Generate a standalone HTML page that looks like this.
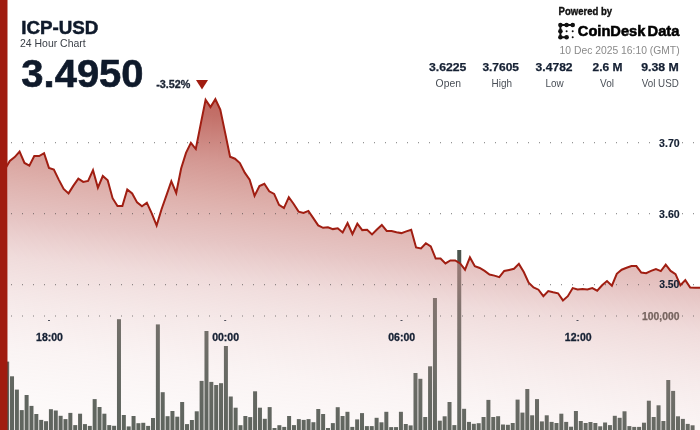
<!DOCTYPE html>
<html><head><meta charset="utf-8"><style>
html,body{margin:0;padding:0;width:700px;height:430px;overflow:hidden;background:#fff}
svg{position:absolute;left:0;top:0;display:block;will-change:transform}
text{font-family:"Liberation Sans",sans-serif}
</style></head><body>
<svg width="700" height="430" viewBox="0 0 700 430">
<defs>
<linearGradient id="g" gradientUnits="userSpaceOnUse" x1="300.0" y1="98" x2="263.92" y2="426.03">
<stop offset="0" stop-color="rgb(188,94,86)" stop-opacity="0.98"/>
<stop offset="0.081" stop-color="rgb(191,103,95)" stop-opacity="0.94"/>
<stop offset="0.213" stop-color="rgb(198,119,112)" stop-opacity="0.77"/>
<stop offset="0.334" stop-color="rgb(204,133,126)" stop-opacity="0.65"/>
<stop offset="0.461" stop-color="rgb(210,150,148)" stop-opacity="0.55"/>
<stop offset="0.574" stop-color="rgb(216,164,163)" stop-opacity="0.39"/>
<stop offset="0.699" stop-color="rgb(222,178,177)" stop-opacity="0.29"/>
<stop offset="0.849" stop-color="rgb(229,195,194)" stop-opacity="0.19"/>
<stop offset="1" stop-color="rgb(235,208,207)" stop-opacity="0.13"/>
</linearGradient>
<clipPath id="cl"><rect x="8" y="0" width="700" height="430"/></clipPath>
</defs>
<g fill="rgb(75,85,78)"><rect x="0.30" y="370.00" width="4.0" height="60.00"/><rect x="5.16" y="361.60" width="4.0" height="68.40"/><rect x="10.02" y="376.30" width="4.0" height="53.70"/><rect x="14.88" y="389.60" width="4.0" height="40.40"/><rect x="19.74" y="410.10" width="4.0" height="19.90"/><rect x="24.61" y="395.00" width="4.0" height="35.00"/><rect x="29.47" y="405.90" width="4.0" height="24.10"/><rect x="34.33" y="414.00" width="4.0" height="16.00"/><rect x="39.19" y="419.90" width="4.0" height="10.10"/><rect x="44.05" y="421.20" width="4.0" height="8.80"/><rect x="48.91" y="409.20" width="4.0" height="20.80"/><rect x="53.77" y="410.50" width="4.0" height="19.50"/><rect x="58.63" y="415.80" width="4.0" height="14.20"/><rect x="63.49" y="419.10" width="4.0" height="10.90"/><rect x="68.36" y="412.90" width="4.0" height="17.10"/><rect x="73.22" y="425.10" width="4.0" height="4.90"/><rect x="78.08" y="413.70" width="4.0" height="16.30"/><rect x="82.94" y="424.10" width="4.0" height="5.90"/><rect x="87.80" y="425.90" width="4.0" height="4.10"/><rect x="92.66" y="399.10" width="4.0" height="30.90"/><rect x="97.52" y="407.00" width="4.0" height="23.00"/><rect x="102.38" y="413.70" width="4.0" height="16.30"/><rect x="107.24" y="425.10" width="4.0" height="4.90"/><rect x="112.11" y="425.80" width="4.0" height="4.20"/><rect x="116.97" y="319.20" width="4.0" height="110.80"/><rect x="121.83" y="415.00" width="4.0" height="15.00"/><rect x="126.69" y="426.40" width="4.0" height="3.60"/><rect x="131.55" y="416.00" width="4.0" height="14.00"/><rect x="136.41" y="423.20" width="4.0" height="6.80"/><rect x="141.27" y="422.80" width="4.0" height="7.20"/><rect x="146.13" y="425.90" width="4.0" height="4.10"/><rect x="150.99" y="418.00" width="4.0" height="12.00"/><rect x="155.86" y="324.40" width="4.0" height="105.60"/><rect x="160.72" y="392.20" width="4.0" height="37.80"/><rect x="165.58" y="416.20" width="4.0" height="13.80"/><rect x="170.44" y="411.00" width="4.0" height="19.00"/><rect x="175.30" y="416.70" width="4.0" height="13.30"/><rect x="180.16" y="402.00" width="4.0" height="28.00"/><rect x="185.02" y="424.10" width="4.0" height="5.90"/><rect x="189.88" y="420.00" width="4.0" height="10.00"/><rect x="194.74" y="411.30" width="4.0" height="18.70"/><rect x="199.61" y="380.90" width="4.0" height="49.10"/><rect x="204.47" y="331.00" width="4.0" height="99.00"/><rect x="209.33" y="381.90" width="4.0" height="48.10"/><rect x="214.19" y="385.00" width="4.0" height="45.00"/><rect x="219.05" y="383.20" width="4.0" height="46.80"/><rect x="223.91" y="346.00" width="4.0" height="84.00"/><rect x="228.77" y="396.50" width="4.0" height="33.50"/><rect x="233.63" y="407.70" width="4.0" height="22.30"/><rect x="238.49" y="425.20" width="4.0" height="4.80"/><rect x="243.36" y="416.00" width="4.0" height="14.00"/><rect x="248.22" y="417.10" width="4.0" height="12.90"/><rect x="253.08" y="391.30" width="4.0" height="38.70"/><rect x="257.94" y="407.70" width="4.0" height="22.30"/><rect x="262.80" y="418.80" width="4.0" height="11.20"/><rect x="267.66" y="407.10" width="4.0" height="22.90"/><rect x="272.52" y="428.00" width="4.0" height="2.00"/><rect x="277.38" y="425.20" width="4.0" height="4.80"/><rect x="282.24" y="426.90" width="4.0" height="3.10"/><rect x="287.11" y="416.00" width="4.0" height="14.00"/><rect x="291.97" y="425.10" width="4.0" height="4.90"/><rect x="296.83" y="419.10" width="4.0" height="10.90"/><rect x="301.69" y="419.90" width="4.0" height="10.10"/><rect x="306.55" y="419.10" width="4.0" height="10.90"/><rect x="311.41" y="422.20" width="4.0" height="7.80"/><rect x="316.27" y="409.00" width="4.0" height="21.00"/><rect x="321.13" y="414.00" width="4.0" height="16.00"/><rect x="325.99" y="428.00" width="4.0" height="2.00"/><rect x="330.86" y="423.10" width="4.0" height="6.90"/><rect x="335.72" y="407.20" width="4.0" height="22.80"/><rect x="340.58" y="416.00" width="4.0" height="14.00"/><rect x="345.44" y="411.80" width="4.0" height="18.20"/><rect x="350.30" y="426.90" width="4.0" height="3.10"/><rect x="355.16" y="419.40" width="4.0" height="10.60"/><rect x="360.02" y="413.10" width="4.0" height="16.90"/><rect x="364.88" y="426.10" width="4.0" height="3.90"/><rect x="369.74" y="426.10" width="4.0" height="3.90"/><rect x="374.61" y="417.80" width="4.0" height="12.20"/><rect x="379.47" y="422.30" width="4.0" height="7.70"/><rect x="384.33" y="411.80" width="4.0" height="18.20"/><rect x="389.19" y="427.10" width="4.0" height="2.90"/><rect x="394.05" y="427.10" width="4.0" height="2.90"/><rect x="398.91" y="411.80" width="4.0" height="18.20"/><rect x="403.77" y="424.00" width="4.0" height="6.00"/><rect x="408.63" y="425.40" width="4.0" height="4.60"/><rect x="413.49" y="373.00" width="4.0" height="57.00"/><rect x="418.36" y="378.80" width="4.0" height="51.20"/><rect x="423.22" y="417.00" width="4.0" height="13.00"/><rect x="428.08" y="366.30" width="4.0" height="63.70"/><rect x="432.94" y="298.00" width="4.0" height="132.00"/><rect x="437.80" y="420.70" width="4.0" height="9.30"/><rect x="442.66" y="416.30" width="4.0" height="13.70"/><rect x="447.52" y="402.00" width="4.0" height="28.00"/><rect x="452.38" y="425.10" width="4.0" height="4.90"/><rect x="457.24" y="250.00" width="4.0" height="180.00"/><rect x="462.11" y="408.80" width="4.0" height="21.20"/><rect x="466.97" y="421.90" width="4.0" height="8.10"/><rect x="471.83" y="423.80" width="4.0" height="6.20"/><rect x="476.69" y="423.20" width="4.0" height="6.80"/><rect x="481.55" y="417.00" width="4.0" height="13.00"/><rect x="486.41" y="399.90" width="4.0" height="30.10"/><rect x="491.27" y="417.00" width="4.0" height="13.00"/><rect x="496.13" y="416.20" width="4.0" height="13.80"/><rect x="500.99" y="424.50" width="4.0" height="5.50"/><rect x="505.86" y="424.80" width="4.0" height="5.20"/><rect x="510.72" y="423.00" width="4.0" height="7.00"/><rect x="515.58" y="399.60" width="4.0" height="30.40"/><rect x="520.44" y="412.60" width="4.0" height="17.40"/><rect x="525.30" y="389.00" width="4.0" height="41.00"/><rect x="530.16" y="415.30" width="4.0" height="14.70"/><rect x="535.02" y="399.10" width="4.0" height="30.90"/><rect x="539.88" y="421.40" width="4.0" height="8.60"/><rect x="544.74" y="415.30" width="4.0" height="14.70"/><rect x="549.61" y="421.90" width="4.0" height="8.10"/><rect x="554.47" y="423.00" width="4.0" height="7.00"/><rect x="559.33" y="413.70" width="4.0" height="16.30"/><rect x="564.19" y="421.90" width="4.0" height="8.10"/><rect x="569.05" y="426.70" width="4.0" height="3.30"/><rect x="573.91" y="411.00" width="4.0" height="19.00"/><rect x="578.77" y="421.00" width="4.0" height="9.00"/><rect x="583.63" y="423.00" width="4.0" height="7.00"/><rect x="588.49" y="422.00" width="4.0" height="8.00"/><rect x="593.36" y="423.00" width="4.0" height="7.00"/><rect x="598.22" y="426.30" width="4.0" height="3.70"/><rect x="603.08" y="422.50" width="4.0" height="7.50"/><rect x="607.94" y="425.10" width="4.0" height="4.90"/><rect x="612.80" y="415.80" width="4.0" height="14.20"/><rect x="617.66" y="417.80" width="4.0" height="12.20"/><rect x="622.52" y="411.30" width="4.0" height="18.70"/><rect x="627.38" y="426.10" width="4.0" height="3.90"/><rect x="632.24" y="426.90" width="4.0" height="3.10"/><rect x="637.11" y="426.90" width="4.0" height="3.10"/><rect x="641.97" y="422.70" width="4.0" height="7.30"/><rect x="646.83" y="400.70" width="4.0" height="29.30"/><rect x="651.69" y="417.00" width="4.0" height="13.00"/><rect x="656.55" y="405.30" width="4.0" height="24.70"/><rect x="661.41" y="421.00" width="4.0" height="9.00"/><rect x="666.27" y="380.00" width="4.0" height="50.00"/><rect x="671.13" y="390.90" width="4.0" height="39.10"/><rect x="675.99" y="416.30" width="4.0" height="13.70"/><rect x="680.86" y="418.90" width="4.0" height="11.10"/><rect x="685.72" y="423.90" width="4.0" height="6.10"/><rect x="690.58" y="425.30" width="4.0" height="4.70"/></g>
<path d="M0.00,170.40 L4.90,169.40 L9.79,160.90 L14.69,157.10 L19.58,151.60 L24.48,163.00 L29.37,165.70 L34.27,156.00 L39.16,156.00 L44.06,153.20 L48.95,167.90 L53.85,169.50 L58.74,179.60 L63.64,189.00 L68.53,193.40 L73.43,185.60 L78.32,178.60 L83.22,181.90 L88.11,180.90 L93.01,170.20 L97.90,187.70 L102.80,176.00 L107.69,180.30 L112.59,198.20 L117.48,206.00 L122.38,206.00 L127.27,189.40 L132.17,193.40 L137.06,202.40 L141.96,206.30 L146.85,202.70 L151.75,213.30 L156.64,225.50 L161.54,209.20 L166.43,195.40 L171.33,181.20 L176.22,193.00 L181.12,168.50 L186.01,152.90 L190.91,142.80 L195.80,149.00 L200.70,124.10 L205.59,99.70 L210.49,107.10 L215.38,99.20 L220.28,109.50 L225.17,132.90 L230.07,156.80 L234.97,158.70 L239.86,163.00 L244.76,172.70 L249.65,179.60 L254.55,195.90 L259.44,186.10 L264.34,183.80 L269.23,191.30 L274.13,193.90 L279.02,204.80 L283.92,208.10 L288.81,197.20 L293.71,204.00 L298.60,211.60 L303.50,212.90 L308.39,210.90 L313.29,218.10 L318.18,225.40 L323.08,227.80 L327.97,227.20 L332.87,229.10 L337.76,228.20 L342.66,232.40 L347.55,223.00 L352.45,234.00 L357.34,223.70 L362.24,230.10 L367.13,229.80 L372.03,234.40 L376.92,229.50 L381.82,224.90 L386.71,231.00 L391.61,231.00 L396.50,232.30 L401.40,233.10 L406.29,231.40 L411.19,229.80 L416.08,247.40 L420.98,248.40 L425.87,243.20 L430.77,246.30 L435.66,258.50 L440.56,258.50 L445.45,263.40 L450.35,260.40 L455.24,260.40 L460.14,263.40 L465.03,269.70 L469.93,257.40 L474.83,266.30 L479.72,268.00 L484.62,270.90 L489.51,274.50 L494.41,275.60 L499.30,277.20 L504.20,270.90 L509.09,269.90 L513.99,268.80 L518.88,263.90 L523.78,272.00 L528.67,282.60 L533.57,287.50 L538.46,289.70 L543.36,296.20 L548.25,291.00 L553.15,292.30 L558.04,293.30 L562.94,300.40 L567.83,296.20 L572.73,288.10 L577.62,289.40 L582.52,289.00 L587.41,289.40 L592.31,288.10 L597.20,290.70 L602.10,285.30 L606.99,281.10 L611.89,285.70 L616.78,273.80 L621.68,269.70 L626.57,267.70 L631.47,266.00 L636.36,266.10 L641.26,272.60 L646.15,273.20 L651.05,270.90 L655.94,269.00 L660.84,271.10 L665.73,264.70 L670.63,270.90 L675.52,274.20 L680.42,285.30 L685.31,280.10 L690.21,287.60 L695.10,287.80 L700.00,287.80 L701.00,287.40 L701.00,430 L0,430 Z" fill="url(#g)" clip-path="url(#cl)"/>
<g fill="rgba(80,80,80,0.45)"><rect x="11" y="142" width="1" height="1" fill="rgba(60,60,60,0.55)"/><rect x="11" y="143" width="1" height="1" fill="rgba(60,60,60,0.15)"/><rect x="22" y="142" width="1" height="1" fill="rgba(60,60,60,0.55)"/><rect x="22" y="143" width="1" height="1" fill="rgba(60,60,60,0.15)"/><rect x="33" y="142" width="1" height="1" fill="rgba(60,60,60,0.55)"/><rect x="33" y="143" width="1" height="1" fill="rgba(60,60,60,0.15)"/><rect x="44" y="142" width="1" height="1" fill="rgba(60,60,60,0.55)"/><rect x="44" y="143" width="1" height="1" fill="rgba(60,60,60,0.15)"/><rect x="55" y="142" width="1" height="1" fill="rgba(60,60,60,0.55)"/><rect x="55" y="143" width="1" height="1" fill="rgba(60,60,60,0.15)"/><rect x="66" y="142" width="1" height="1" fill="rgba(60,60,60,0.55)"/><rect x="66" y="143" width="1" height="1" fill="rgba(60,60,60,0.15)"/><rect x="77" y="142" width="1" height="1" fill="rgba(60,60,60,0.55)"/><rect x="77" y="143" width="1" height="1" fill="rgba(60,60,60,0.15)"/><rect x="88" y="142" width="1" height="1" fill="rgba(60,60,60,0.55)"/><rect x="88" y="143" width="1" height="1" fill="rgba(60,60,60,0.15)"/><rect x="99" y="142" width="1" height="1" fill="rgba(60,60,60,0.55)"/><rect x="99" y="143" width="1" height="1" fill="rgba(60,60,60,0.15)"/><rect x="110" y="142" width="1" height="1" fill="rgba(60,60,60,0.55)"/><rect x="110" y="143" width="1" height="1" fill="rgba(60,60,60,0.15)"/><rect x="121" y="142" width="1" height="1" fill="rgba(60,60,60,0.55)"/><rect x="121" y="143" width="1" height="1" fill="rgba(60,60,60,0.15)"/><rect x="132" y="142" width="1" height="1" fill="rgba(60,60,60,0.55)"/><rect x="132" y="143" width="1" height="1" fill="rgba(60,60,60,0.15)"/><rect x="143" y="142" width="1" height="1" fill="rgba(60,60,60,0.55)"/><rect x="143" y="143" width="1" height="1" fill="rgba(60,60,60,0.15)"/><rect x="154" y="142" width="1" height="1" fill="rgba(60,60,60,0.55)"/><rect x="154" y="143" width="1" height="1" fill="rgba(60,60,60,0.15)"/><rect x="165" y="142" width="1" height="1" fill="rgba(60,60,60,0.55)"/><rect x="165" y="143" width="1" height="1" fill="rgba(60,60,60,0.15)"/><rect x="176" y="142" width="1" height="1" fill="rgba(60,60,60,0.55)"/><rect x="176" y="143" width="1" height="1" fill="rgba(60,60,60,0.15)"/><rect x="187" y="142" width="1" height="1" fill="rgba(60,60,60,0.55)"/><rect x="187" y="143" width="1" height="1" fill="rgba(60,60,60,0.15)"/><rect x="198" y="142" width="1" height="1" fill="rgba(60,60,60,0.55)"/><rect x="198" y="143" width="1" height="1" fill="rgba(60,60,60,0.15)"/><rect x="209" y="142" width="1" height="1" fill="rgba(60,60,60,0.55)"/><rect x="209" y="143" width="1" height="1" fill="rgba(60,60,60,0.15)"/><rect x="220" y="142" width="1" height="1" fill="rgba(60,60,60,0.55)"/><rect x="220" y="143" width="1" height="1" fill="rgba(60,60,60,0.15)"/><rect x="231" y="142" width="1" height="1" fill="rgba(60,60,60,0.55)"/><rect x="231" y="143" width="1" height="1" fill="rgba(60,60,60,0.15)"/><rect x="242" y="142" width="1" height="1" fill="rgba(60,60,60,0.55)"/><rect x="242" y="143" width="1" height="1" fill="rgba(60,60,60,0.15)"/><rect x="253" y="142" width="1" height="1" fill="rgba(60,60,60,0.55)"/><rect x="253" y="143" width="1" height="1" fill="rgba(60,60,60,0.15)"/><rect x="264" y="142" width="1" height="1" fill="rgba(60,60,60,0.55)"/><rect x="264" y="143" width="1" height="1" fill="rgba(60,60,60,0.15)"/><rect x="275" y="142" width="1" height="1" fill="rgba(60,60,60,0.55)"/><rect x="275" y="143" width="1" height="1" fill="rgba(60,60,60,0.15)"/><rect x="286" y="142" width="1" height="1" fill="rgba(60,60,60,0.55)"/><rect x="286" y="143" width="1" height="1" fill="rgba(60,60,60,0.15)"/><rect x="297" y="142" width="1" height="1" fill="rgba(60,60,60,0.55)"/><rect x="297" y="143" width="1" height="1" fill="rgba(60,60,60,0.15)"/><rect x="308" y="142" width="1" height="1" fill="rgba(60,60,60,0.55)"/><rect x="308" y="143" width="1" height="1" fill="rgba(60,60,60,0.15)"/><rect x="319" y="142" width="1" height="1" fill="rgba(60,60,60,0.55)"/><rect x="319" y="143" width="1" height="1" fill="rgba(60,60,60,0.15)"/><rect x="330" y="142" width="1" height="1" fill="rgba(60,60,60,0.55)"/><rect x="330" y="143" width="1" height="1" fill="rgba(60,60,60,0.15)"/><rect x="341" y="142" width="1" height="1" fill="rgba(60,60,60,0.55)"/><rect x="341" y="143" width="1" height="1" fill="rgba(60,60,60,0.15)"/><rect x="352" y="142" width="1" height="1" fill="rgba(60,60,60,0.55)"/><rect x="352" y="143" width="1" height="1" fill="rgba(60,60,60,0.15)"/><rect x="363" y="142" width="1" height="1" fill="rgba(60,60,60,0.55)"/><rect x="363" y="143" width="1" height="1" fill="rgba(60,60,60,0.15)"/><rect x="374" y="142" width="1" height="1" fill="rgba(60,60,60,0.55)"/><rect x="374" y="143" width="1" height="1" fill="rgba(60,60,60,0.15)"/><rect x="385" y="142" width="1" height="1" fill="rgba(60,60,60,0.55)"/><rect x="385" y="143" width="1" height="1" fill="rgba(60,60,60,0.15)"/><rect x="396" y="142" width="1" height="1" fill="rgba(60,60,60,0.55)"/><rect x="396" y="143" width="1" height="1" fill="rgba(60,60,60,0.15)"/><rect x="407" y="142" width="1" height="1" fill="rgba(60,60,60,0.55)"/><rect x="407" y="143" width="1" height="1" fill="rgba(60,60,60,0.15)"/><rect x="418" y="142" width="1" height="1" fill="rgba(60,60,60,0.55)"/><rect x="418" y="143" width="1" height="1" fill="rgba(60,60,60,0.15)"/><rect x="429" y="142" width="1" height="1" fill="rgba(60,60,60,0.55)"/><rect x="429" y="143" width="1" height="1" fill="rgba(60,60,60,0.15)"/><rect x="440" y="142" width="1" height="1" fill="rgba(60,60,60,0.55)"/><rect x="440" y="143" width="1" height="1" fill="rgba(60,60,60,0.15)"/><rect x="451" y="142" width="1" height="1" fill="rgba(60,60,60,0.55)"/><rect x="451" y="143" width="1" height="1" fill="rgba(60,60,60,0.15)"/><rect x="462" y="142" width="1" height="1" fill="rgba(60,60,60,0.55)"/><rect x="462" y="143" width="1" height="1" fill="rgba(60,60,60,0.15)"/><rect x="473" y="142" width="1" height="1" fill="rgba(60,60,60,0.55)"/><rect x="473" y="143" width="1" height="1" fill="rgba(60,60,60,0.15)"/><rect x="484" y="142" width="1" height="1" fill="rgba(60,60,60,0.55)"/><rect x="484" y="143" width="1" height="1" fill="rgba(60,60,60,0.15)"/><rect x="495" y="142" width="1" height="1" fill="rgba(60,60,60,0.55)"/><rect x="495" y="143" width="1" height="1" fill="rgba(60,60,60,0.15)"/><rect x="506" y="142" width="1" height="1" fill="rgba(60,60,60,0.55)"/><rect x="506" y="143" width="1" height="1" fill="rgba(60,60,60,0.15)"/><rect x="517" y="142" width="1" height="1" fill="rgba(60,60,60,0.55)"/><rect x="517" y="143" width="1" height="1" fill="rgba(60,60,60,0.15)"/><rect x="528" y="142" width="1" height="1" fill="rgba(60,60,60,0.55)"/><rect x="528" y="143" width="1" height="1" fill="rgba(60,60,60,0.15)"/><rect x="539" y="142" width="1" height="1" fill="rgba(60,60,60,0.55)"/><rect x="539" y="143" width="1" height="1" fill="rgba(60,60,60,0.15)"/><rect x="550" y="142" width="1" height="1" fill="rgba(60,60,60,0.55)"/><rect x="550" y="143" width="1" height="1" fill="rgba(60,60,60,0.15)"/><rect x="561" y="142" width="1" height="1" fill="rgba(60,60,60,0.55)"/><rect x="561" y="143" width="1" height="1" fill="rgba(60,60,60,0.15)"/><rect x="572" y="142" width="1" height="1" fill="rgba(60,60,60,0.55)"/><rect x="572" y="143" width="1" height="1" fill="rgba(60,60,60,0.15)"/><rect x="583" y="142" width="1" height="1" fill="rgba(60,60,60,0.55)"/><rect x="583" y="143" width="1" height="1" fill="rgba(60,60,60,0.15)"/><rect x="594" y="142" width="1" height="1" fill="rgba(60,60,60,0.55)"/><rect x="594" y="143" width="1" height="1" fill="rgba(60,60,60,0.15)"/><rect x="605" y="142" width="1" height="1" fill="rgba(60,60,60,0.55)"/><rect x="605" y="143" width="1" height="1" fill="rgba(60,60,60,0.15)"/><rect x="616" y="142" width="1" height="1" fill="rgba(60,60,60,0.55)"/><rect x="616" y="143" width="1" height="1" fill="rgba(60,60,60,0.15)"/><rect x="627" y="142" width="1" height="1" fill="rgba(60,60,60,0.55)"/><rect x="627" y="143" width="1" height="1" fill="rgba(60,60,60,0.15)"/><rect x="638" y="142" width="1" height="1" fill="rgba(60,60,60,0.55)"/><rect x="638" y="143" width="1" height="1" fill="rgba(60,60,60,0.15)"/><rect x="649" y="142" width="1" height="1" fill="rgba(60,60,60,0.55)"/><rect x="649" y="143" width="1" height="1" fill="rgba(60,60,60,0.15)"/><rect x="660" y="142" width="1" height="1" fill="rgba(60,60,60,0.55)"/><rect x="660" y="143" width="1" height="1" fill="rgba(60,60,60,0.15)"/><rect x="671" y="142" width="1" height="1" fill="rgba(60,60,60,0.55)"/><rect x="671" y="143" width="1" height="1" fill="rgba(60,60,60,0.15)"/><rect x="682" y="142" width="1" height="1" fill="rgba(60,60,60,0.55)"/><rect x="682" y="143" width="1" height="1" fill="rgba(60,60,60,0.15)"/><rect x="693" y="142" width="1" height="1" fill="rgba(60,60,60,0.55)"/><rect x="693" y="143" width="1" height="1" fill="rgba(60,60,60,0.15)"/><rect x="11" y="213" width="1" height="1" fill="rgba(60,60,60,0.55)"/><rect x="11" y="214" width="1" height="1" fill="rgba(60,60,60,0.15)"/><rect x="22" y="213" width="1" height="1" fill="rgba(60,60,60,0.55)"/><rect x="22" y="214" width="1" height="1" fill="rgba(60,60,60,0.15)"/><rect x="33" y="213" width="1" height="1" fill="rgba(60,60,60,0.55)"/><rect x="33" y="214" width="1" height="1" fill="rgba(60,60,60,0.15)"/><rect x="44" y="213" width="1" height="1" fill="rgba(60,60,60,0.55)"/><rect x="44" y="214" width="1" height="1" fill="rgba(60,60,60,0.15)"/><rect x="55" y="213" width="1" height="1" fill="rgba(60,60,60,0.55)"/><rect x="55" y="214" width="1" height="1" fill="rgba(60,60,60,0.15)"/><rect x="66" y="213" width="1" height="1" fill="rgba(60,60,60,0.55)"/><rect x="66" y="214" width="1" height="1" fill="rgba(60,60,60,0.15)"/><rect x="77" y="213" width="1" height="1" fill="rgba(60,60,60,0.55)"/><rect x="77" y="214" width="1" height="1" fill="rgba(60,60,60,0.15)"/><rect x="88" y="213" width="1" height="1" fill="rgba(60,60,60,0.55)"/><rect x="88" y="214" width="1" height="1" fill="rgba(60,60,60,0.15)"/><rect x="99" y="213" width="1" height="1" fill="rgba(60,60,60,0.55)"/><rect x="99" y="214" width="1" height="1" fill="rgba(60,60,60,0.15)"/><rect x="110" y="213" width="1" height="1" fill="rgba(60,60,60,0.55)"/><rect x="110" y="214" width="1" height="1" fill="rgba(60,60,60,0.15)"/><rect x="121" y="213" width="1" height="1" fill="rgba(60,60,60,0.55)"/><rect x="121" y="214" width="1" height="1" fill="rgba(60,60,60,0.15)"/><rect x="132" y="213" width="1" height="1" fill="rgba(60,60,60,0.55)"/><rect x="132" y="214" width="1" height="1" fill="rgba(60,60,60,0.15)"/><rect x="143" y="213" width="1" height="1" fill="rgba(60,60,60,0.55)"/><rect x="143" y="214" width="1" height="1" fill="rgba(60,60,60,0.15)"/><rect x="154" y="213" width="1" height="1" fill="rgba(60,60,60,0.55)"/><rect x="154" y="214" width="1" height="1" fill="rgba(60,60,60,0.15)"/><rect x="165" y="213" width="1" height="1" fill="rgba(60,60,60,0.55)"/><rect x="165" y="214" width="1" height="1" fill="rgba(60,60,60,0.15)"/><rect x="176" y="213" width="1" height="1" fill="rgba(60,60,60,0.55)"/><rect x="176" y="214" width="1" height="1" fill="rgba(60,60,60,0.15)"/><rect x="187" y="213" width="1" height="1" fill="rgba(60,60,60,0.55)"/><rect x="187" y="214" width="1" height="1" fill="rgba(60,60,60,0.15)"/><rect x="198" y="213" width="1" height="1" fill="rgba(60,60,60,0.55)"/><rect x="198" y="214" width="1" height="1" fill="rgba(60,60,60,0.15)"/><rect x="209" y="213" width="1" height="1" fill="rgba(60,60,60,0.55)"/><rect x="209" y="214" width="1" height="1" fill="rgba(60,60,60,0.15)"/><rect x="220" y="213" width="1" height="1" fill="rgba(60,60,60,0.55)"/><rect x="220" y="214" width="1" height="1" fill="rgba(60,60,60,0.15)"/><rect x="231" y="213" width="1" height="1" fill="rgba(60,60,60,0.55)"/><rect x="231" y="214" width="1" height="1" fill="rgba(60,60,60,0.15)"/><rect x="242" y="213" width="1" height="1" fill="rgba(60,60,60,0.55)"/><rect x="242" y="214" width="1" height="1" fill="rgba(60,60,60,0.15)"/><rect x="253" y="213" width="1" height="1" fill="rgba(60,60,60,0.55)"/><rect x="253" y="214" width="1" height="1" fill="rgba(60,60,60,0.15)"/><rect x="264" y="213" width="1" height="1" fill="rgba(60,60,60,0.55)"/><rect x="264" y="214" width="1" height="1" fill="rgba(60,60,60,0.15)"/><rect x="275" y="213" width="1" height="1" fill="rgba(60,60,60,0.55)"/><rect x="275" y="214" width="1" height="1" fill="rgba(60,60,60,0.15)"/><rect x="286" y="213" width="1" height="1" fill="rgba(60,60,60,0.55)"/><rect x="286" y="214" width="1" height="1" fill="rgba(60,60,60,0.15)"/><rect x="297" y="213" width="1" height="1" fill="rgba(60,60,60,0.55)"/><rect x="297" y="214" width="1" height="1" fill="rgba(60,60,60,0.15)"/><rect x="308" y="213" width="1" height="1" fill="rgba(60,60,60,0.55)"/><rect x="308" y="214" width="1" height="1" fill="rgba(60,60,60,0.15)"/><rect x="319" y="213" width="1" height="1" fill="rgba(60,60,60,0.55)"/><rect x="319" y="214" width="1" height="1" fill="rgba(60,60,60,0.15)"/><rect x="330" y="213" width="1" height="1" fill="rgba(60,60,60,0.55)"/><rect x="330" y="214" width="1" height="1" fill="rgba(60,60,60,0.15)"/><rect x="341" y="213" width="1" height="1" fill="rgba(60,60,60,0.55)"/><rect x="341" y="214" width="1" height="1" fill="rgba(60,60,60,0.15)"/><rect x="352" y="213" width="1" height="1" fill="rgba(60,60,60,0.55)"/><rect x="352" y="214" width="1" height="1" fill="rgba(60,60,60,0.15)"/><rect x="363" y="213" width="1" height="1" fill="rgba(60,60,60,0.55)"/><rect x="363" y="214" width="1" height="1" fill="rgba(60,60,60,0.15)"/><rect x="374" y="213" width="1" height="1" fill="rgba(60,60,60,0.55)"/><rect x="374" y="214" width="1" height="1" fill="rgba(60,60,60,0.15)"/><rect x="385" y="213" width="1" height="1" fill="rgba(60,60,60,0.55)"/><rect x="385" y="214" width="1" height="1" fill="rgba(60,60,60,0.15)"/><rect x="396" y="213" width="1" height="1" fill="rgba(60,60,60,0.55)"/><rect x="396" y="214" width="1" height="1" fill="rgba(60,60,60,0.15)"/><rect x="407" y="213" width="1" height="1" fill="rgba(60,60,60,0.55)"/><rect x="407" y="214" width="1" height="1" fill="rgba(60,60,60,0.15)"/><rect x="418" y="213" width="1" height="1" fill="rgba(60,60,60,0.55)"/><rect x="418" y="214" width="1" height="1" fill="rgba(60,60,60,0.15)"/><rect x="429" y="213" width="1" height="1" fill="rgba(60,60,60,0.55)"/><rect x="429" y="214" width="1" height="1" fill="rgba(60,60,60,0.15)"/><rect x="440" y="213" width="1" height="1" fill="rgba(60,60,60,0.55)"/><rect x="440" y="214" width="1" height="1" fill="rgba(60,60,60,0.15)"/><rect x="451" y="213" width="1" height="1" fill="rgba(60,60,60,0.55)"/><rect x="451" y="214" width="1" height="1" fill="rgba(60,60,60,0.15)"/><rect x="462" y="213" width="1" height="1" fill="rgba(60,60,60,0.55)"/><rect x="462" y="214" width="1" height="1" fill="rgba(60,60,60,0.15)"/><rect x="473" y="213" width="1" height="1" fill="rgba(60,60,60,0.55)"/><rect x="473" y="214" width="1" height="1" fill="rgba(60,60,60,0.15)"/><rect x="484" y="213" width="1" height="1" fill="rgba(60,60,60,0.55)"/><rect x="484" y="214" width="1" height="1" fill="rgba(60,60,60,0.15)"/><rect x="495" y="213" width="1" height="1" fill="rgba(60,60,60,0.55)"/><rect x="495" y="214" width="1" height="1" fill="rgba(60,60,60,0.15)"/><rect x="506" y="213" width="1" height="1" fill="rgba(60,60,60,0.55)"/><rect x="506" y="214" width="1" height="1" fill="rgba(60,60,60,0.15)"/><rect x="517" y="213" width="1" height="1" fill="rgba(60,60,60,0.55)"/><rect x="517" y="214" width="1" height="1" fill="rgba(60,60,60,0.15)"/><rect x="528" y="213" width="1" height="1" fill="rgba(60,60,60,0.55)"/><rect x="528" y="214" width="1" height="1" fill="rgba(60,60,60,0.15)"/><rect x="539" y="213" width="1" height="1" fill="rgba(60,60,60,0.55)"/><rect x="539" y="214" width="1" height="1" fill="rgba(60,60,60,0.15)"/><rect x="550" y="213" width="1" height="1" fill="rgba(60,60,60,0.55)"/><rect x="550" y="214" width="1" height="1" fill="rgba(60,60,60,0.15)"/><rect x="561" y="213" width="1" height="1" fill="rgba(60,60,60,0.55)"/><rect x="561" y="214" width="1" height="1" fill="rgba(60,60,60,0.15)"/><rect x="572" y="213" width="1" height="1" fill="rgba(60,60,60,0.55)"/><rect x="572" y="214" width="1" height="1" fill="rgba(60,60,60,0.15)"/><rect x="583" y="213" width="1" height="1" fill="rgba(60,60,60,0.55)"/><rect x="583" y="214" width="1" height="1" fill="rgba(60,60,60,0.15)"/><rect x="594" y="213" width="1" height="1" fill="rgba(60,60,60,0.55)"/><rect x="594" y="214" width="1" height="1" fill="rgba(60,60,60,0.15)"/><rect x="605" y="213" width="1" height="1" fill="rgba(60,60,60,0.55)"/><rect x="605" y="214" width="1" height="1" fill="rgba(60,60,60,0.15)"/><rect x="616" y="213" width="1" height="1" fill="rgba(60,60,60,0.55)"/><rect x="616" y="214" width="1" height="1" fill="rgba(60,60,60,0.15)"/><rect x="627" y="213" width="1" height="1" fill="rgba(60,60,60,0.55)"/><rect x="627" y="214" width="1" height="1" fill="rgba(60,60,60,0.15)"/><rect x="638" y="213" width="1" height="1" fill="rgba(60,60,60,0.55)"/><rect x="638" y="214" width="1" height="1" fill="rgba(60,60,60,0.15)"/><rect x="649" y="213" width="1" height="1" fill="rgba(60,60,60,0.55)"/><rect x="649" y="214" width="1" height="1" fill="rgba(60,60,60,0.15)"/><rect x="660" y="213" width="1" height="1" fill="rgba(60,60,60,0.55)"/><rect x="660" y="214" width="1" height="1" fill="rgba(60,60,60,0.15)"/><rect x="671" y="213" width="1" height="1" fill="rgba(60,60,60,0.55)"/><rect x="671" y="214" width="1" height="1" fill="rgba(60,60,60,0.15)"/><rect x="682" y="213" width="1" height="1" fill="rgba(60,60,60,0.55)"/><rect x="682" y="214" width="1" height="1" fill="rgba(60,60,60,0.15)"/><rect x="693" y="213" width="1" height="1" fill="rgba(60,60,60,0.55)"/><rect x="693" y="214" width="1" height="1" fill="rgba(60,60,60,0.15)"/><rect x="11" y="284" width="1" height="1" fill="rgba(60,60,60,0.55)"/><rect x="11" y="285" width="1" height="1" fill="rgba(60,60,60,0.15)"/><rect x="22" y="284" width="1" height="1" fill="rgba(60,60,60,0.55)"/><rect x="22" y="285" width="1" height="1" fill="rgba(60,60,60,0.15)"/><rect x="33" y="284" width="1" height="1" fill="rgba(60,60,60,0.55)"/><rect x="33" y="285" width="1" height="1" fill="rgba(60,60,60,0.15)"/><rect x="44" y="284" width="1" height="1" fill="rgba(60,60,60,0.55)"/><rect x="44" y="285" width="1" height="1" fill="rgba(60,60,60,0.15)"/><rect x="55" y="284" width="1" height="1" fill="rgba(60,60,60,0.55)"/><rect x="55" y="285" width="1" height="1" fill="rgba(60,60,60,0.15)"/><rect x="66" y="284" width="1" height="1" fill="rgba(60,60,60,0.55)"/><rect x="66" y="285" width="1" height="1" fill="rgba(60,60,60,0.15)"/><rect x="77" y="284" width="1" height="1" fill="rgba(60,60,60,0.55)"/><rect x="77" y="285" width="1" height="1" fill="rgba(60,60,60,0.15)"/><rect x="88" y="284" width="1" height="1" fill="rgba(60,60,60,0.55)"/><rect x="88" y="285" width="1" height="1" fill="rgba(60,60,60,0.15)"/><rect x="99" y="284" width="1" height="1" fill="rgba(60,60,60,0.55)"/><rect x="99" y="285" width="1" height="1" fill="rgba(60,60,60,0.15)"/><rect x="110" y="284" width="1" height="1" fill="rgba(60,60,60,0.55)"/><rect x="110" y="285" width="1" height="1" fill="rgba(60,60,60,0.15)"/><rect x="121" y="284" width="1" height="1" fill="rgba(60,60,60,0.55)"/><rect x="121" y="285" width="1" height="1" fill="rgba(60,60,60,0.15)"/><rect x="132" y="284" width="1" height="1" fill="rgba(60,60,60,0.55)"/><rect x="132" y="285" width="1" height="1" fill="rgba(60,60,60,0.15)"/><rect x="143" y="284" width="1" height="1" fill="rgba(60,60,60,0.55)"/><rect x="143" y="285" width="1" height="1" fill="rgba(60,60,60,0.15)"/><rect x="154" y="284" width="1" height="1" fill="rgba(60,60,60,0.55)"/><rect x="154" y="285" width="1" height="1" fill="rgba(60,60,60,0.15)"/><rect x="165" y="284" width="1" height="1" fill="rgba(60,60,60,0.55)"/><rect x="165" y="285" width="1" height="1" fill="rgba(60,60,60,0.15)"/><rect x="176" y="284" width="1" height="1" fill="rgba(60,60,60,0.55)"/><rect x="176" y="285" width="1" height="1" fill="rgba(60,60,60,0.15)"/><rect x="187" y="284" width="1" height="1" fill="rgba(60,60,60,0.55)"/><rect x="187" y="285" width="1" height="1" fill="rgba(60,60,60,0.15)"/><rect x="198" y="284" width="1" height="1" fill="rgba(60,60,60,0.55)"/><rect x="198" y="285" width="1" height="1" fill="rgba(60,60,60,0.15)"/><rect x="209" y="284" width="1" height="1" fill="rgba(60,60,60,0.55)"/><rect x="209" y="285" width="1" height="1" fill="rgba(60,60,60,0.15)"/><rect x="220" y="284" width="1" height="1" fill="rgba(60,60,60,0.55)"/><rect x="220" y="285" width="1" height="1" fill="rgba(60,60,60,0.15)"/><rect x="231" y="284" width="1" height="1" fill="rgba(60,60,60,0.55)"/><rect x="231" y="285" width="1" height="1" fill="rgba(60,60,60,0.15)"/><rect x="242" y="284" width="1" height="1" fill="rgba(60,60,60,0.55)"/><rect x="242" y="285" width="1" height="1" fill="rgba(60,60,60,0.15)"/><rect x="253" y="284" width="1" height="1" fill="rgba(60,60,60,0.55)"/><rect x="253" y="285" width="1" height="1" fill="rgba(60,60,60,0.15)"/><rect x="264" y="284" width="1" height="1" fill="rgba(60,60,60,0.55)"/><rect x="264" y="285" width="1" height="1" fill="rgba(60,60,60,0.15)"/><rect x="275" y="284" width="1" height="1" fill="rgba(60,60,60,0.55)"/><rect x="275" y="285" width="1" height="1" fill="rgba(60,60,60,0.15)"/><rect x="286" y="284" width="1" height="1" fill="rgba(60,60,60,0.55)"/><rect x="286" y="285" width="1" height="1" fill="rgba(60,60,60,0.15)"/><rect x="297" y="284" width="1" height="1" fill="rgba(60,60,60,0.55)"/><rect x="297" y="285" width="1" height="1" fill="rgba(60,60,60,0.15)"/><rect x="308" y="284" width="1" height="1" fill="rgba(60,60,60,0.55)"/><rect x="308" y="285" width="1" height="1" fill="rgba(60,60,60,0.15)"/><rect x="319" y="284" width="1" height="1" fill="rgba(60,60,60,0.55)"/><rect x="319" y="285" width="1" height="1" fill="rgba(60,60,60,0.15)"/><rect x="330" y="284" width="1" height="1" fill="rgba(60,60,60,0.55)"/><rect x="330" y="285" width="1" height="1" fill="rgba(60,60,60,0.15)"/><rect x="341" y="284" width="1" height="1" fill="rgba(60,60,60,0.55)"/><rect x="341" y="285" width="1" height="1" fill="rgba(60,60,60,0.15)"/><rect x="352" y="284" width="1" height="1" fill="rgba(60,60,60,0.55)"/><rect x="352" y="285" width="1" height="1" fill="rgba(60,60,60,0.15)"/><rect x="363" y="284" width="1" height="1" fill="rgba(60,60,60,0.55)"/><rect x="363" y="285" width="1" height="1" fill="rgba(60,60,60,0.15)"/><rect x="374" y="284" width="1" height="1" fill="rgba(60,60,60,0.55)"/><rect x="374" y="285" width="1" height="1" fill="rgba(60,60,60,0.15)"/><rect x="385" y="284" width="1" height="1" fill="rgba(60,60,60,0.55)"/><rect x="385" y="285" width="1" height="1" fill="rgba(60,60,60,0.15)"/><rect x="396" y="284" width="1" height="1" fill="rgba(60,60,60,0.55)"/><rect x="396" y="285" width="1" height="1" fill="rgba(60,60,60,0.15)"/><rect x="407" y="284" width="1" height="1" fill="rgba(60,60,60,0.55)"/><rect x="407" y="285" width="1" height="1" fill="rgba(60,60,60,0.15)"/><rect x="418" y="284" width="1" height="1" fill="rgba(60,60,60,0.55)"/><rect x="418" y="285" width="1" height="1" fill="rgba(60,60,60,0.15)"/><rect x="429" y="284" width="1" height="1" fill="rgba(60,60,60,0.55)"/><rect x="429" y="285" width="1" height="1" fill="rgba(60,60,60,0.15)"/><rect x="440" y="284" width="1" height="1" fill="rgba(60,60,60,0.55)"/><rect x="440" y="285" width="1" height="1" fill="rgba(60,60,60,0.15)"/><rect x="451" y="284" width="1" height="1" fill="rgba(60,60,60,0.55)"/><rect x="451" y="285" width="1" height="1" fill="rgba(60,60,60,0.15)"/><rect x="462" y="284" width="1" height="1" fill="rgba(60,60,60,0.55)"/><rect x="462" y="285" width="1" height="1" fill="rgba(60,60,60,0.15)"/><rect x="473" y="284" width="1" height="1" fill="rgba(60,60,60,0.55)"/><rect x="473" y="285" width="1" height="1" fill="rgba(60,60,60,0.15)"/><rect x="484" y="284" width="1" height="1" fill="rgba(60,60,60,0.55)"/><rect x="484" y="285" width="1" height="1" fill="rgba(60,60,60,0.15)"/><rect x="495" y="284" width="1" height="1" fill="rgba(60,60,60,0.55)"/><rect x="495" y="285" width="1" height="1" fill="rgba(60,60,60,0.15)"/><rect x="506" y="284" width="1" height="1" fill="rgba(60,60,60,0.55)"/><rect x="506" y="285" width="1" height="1" fill="rgba(60,60,60,0.15)"/><rect x="517" y="284" width="1" height="1" fill="rgba(60,60,60,0.55)"/><rect x="517" y="285" width="1" height="1" fill="rgba(60,60,60,0.15)"/><rect x="528" y="284" width="1" height="1" fill="rgba(60,60,60,0.55)"/><rect x="528" y="285" width="1" height="1" fill="rgba(60,60,60,0.15)"/><rect x="539" y="284" width="1" height="1" fill="rgba(60,60,60,0.55)"/><rect x="539" y="285" width="1" height="1" fill="rgba(60,60,60,0.15)"/><rect x="550" y="284" width="1" height="1" fill="rgba(60,60,60,0.55)"/><rect x="550" y="285" width="1" height="1" fill="rgba(60,60,60,0.15)"/><rect x="561" y="284" width="1" height="1" fill="rgba(60,60,60,0.55)"/><rect x="561" y="285" width="1" height="1" fill="rgba(60,60,60,0.15)"/><rect x="572" y="284" width="1" height="1" fill="rgba(60,60,60,0.55)"/><rect x="572" y="285" width="1" height="1" fill="rgba(60,60,60,0.15)"/><rect x="583" y="284" width="1" height="1" fill="rgba(60,60,60,0.55)"/><rect x="583" y="285" width="1" height="1" fill="rgba(60,60,60,0.15)"/><rect x="594" y="284" width="1" height="1" fill="rgba(60,60,60,0.55)"/><rect x="594" y="285" width="1" height="1" fill="rgba(60,60,60,0.15)"/><rect x="605" y="284" width="1" height="1" fill="rgba(60,60,60,0.55)"/><rect x="605" y="285" width="1" height="1" fill="rgba(60,60,60,0.15)"/><rect x="616" y="284" width="1" height="1" fill="rgba(60,60,60,0.55)"/><rect x="616" y="285" width="1" height="1" fill="rgba(60,60,60,0.15)"/><rect x="627" y="284" width="1" height="1" fill="rgba(60,60,60,0.55)"/><rect x="627" y="285" width="1" height="1" fill="rgba(60,60,60,0.15)"/><rect x="638" y="284" width="1" height="1" fill="rgba(60,60,60,0.55)"/><rect x="638" y="285" width="1" height="1" fill="rgba(60,60,60,0.15)"/><rect x="649" y="284" width="1" height="1" fill="rgba(60,60,60,0.55)"/><rect x="649" y="285" width="1" height="1" fill="rgba(60,60,60,0.15)"/><rect x="660" y="284" width="1" height="1" fill="rgba(60,60,60,0.55)"/><rect x="660" y="285" width="1" height="1" fill="rgba(60,60,60,0.15)"/><rect x="671" y="284" width="1" height="1" fill="rgba(60,60,60,0.55)"/><rect x="671" y="285" width="1" height="1" fill="rgba(60,60,60,0.15)"/><rect x="682" y="284" width="1" height="1" fill="rgba(60,60,60,0.55)"/><rect x="682" y="285" width="1" height="1" fill="rgba(60,60,60,0.15)"/><rect x="693" y="284" width="1" height="1" fill="rgba(60,60,60,0.55)"/><rect x="693" y="285" width="1" height="1" fill="rgba(60,60,60,0.15)"/><rect x="11" y="315" width="1" height="2" fill="rgba(60,60,60,0.32)"/><rect x="22" y="315" width="1" height="2" fill="rgba(60,60,60,0.32)"/><rect x="33" y="315" width="1" height="2" fill="rgba(60,60,60,0.32)"/><rect x="44" y="315" width="1" height="2" fill="rgba(60,60,60,0.32)"/><rect x="55" y="315" width="1" height="2" fill="rgba(60,60,60,0.32)"/><rect x="66" y="315" width="1" height="2" fill="rgba(60,60,60,0.32)"/><rect x="77" y="315" width="1" height="2" fill="rgba(60,60,60,0.32)"/><rect x="88" y="315" width="1" height="2" fill="rgba(60,60,60,0.32)"/><rect x="99" y="315" width="1" height="2" fill="rgba(60,60,60,0.32)"/><rect x="110" y="315" width="1" height="2" fill="rgba(60,60,60,0.32)"/><rect x="121" y="315" width="1" height="2" fill="rgba(60,60,60,0.32)"/><rect x="132" y="315" width="1" height="2" fill="rgba(60,60,60,0.32)"/><rect x="143" y="315" width="1" height="2" fill="rgba(60,60,60,0.32)"/><rect x="154" y="315" width="1" height="2" fill="rgba(60,60,60,0.32)"/><rect x="165" y="315" width="1" height="2" fill="rgba(60,60,60,0.32)"/><rect x="176" y="315" width="1" height="2" fill="rgba(60,60,60,0.32)"/><rect x="187" y="315" width="1" height="2" fill="rgba(60,60,60,0.32)"/><rect x="198" y="315" width="1" height="2" fill="rgba(60,60,60,0.32)"/><rect x="209" y="315" width="1" height="2" fill="rgba(60,60,60,0.32)"/><rect x="220" y="315" width="1" height="2" fill="rgba(60,60,60,0.32)"/><rect x="231" y="315" width="1" height="2" fill="rgba(60,60,60,0.32)"/><rect x="242" y="315" width="1" height="2" fill="rgba(60,60,60,0.32)"/><rect x="253" y="315" width="1" height="2" fill="rgba(60,60,60,0.32)"/><rect x="264" y="315" width="1" height="2" fill="rgba(60,60,60,0.32)"/><rect x="275" y="315" width="1" height="2" fill="rgba(60,60,60,0.32)"/><rect x="286" y="315" width="1" height="2" fill="rgba(60,60,60,0.32)"/><rect x="297" y="315" width="1" height="2" fill="rgba(60,60,60,0.32)"/><rect x="308" y="315" width="1" height="2" fill="rgba(60,60,60,0.32)"/><rect x="319" y="315" width="1" height="2" fill="rgba(60,60,60,0.32)"/><rect x="330" y="315" width="1" height="2" fill="rgba(60,60,60,0.32)"/><rect x="341" y="315" width="1" height="2" fill="rgba(60,60,60,0.32)"/><rect x="352" y="315" width="1" height="2" fill="rgba(60,60,60,0.32)"/><rect x="363" y="315" width="1" height="2" fill="rgba(60,60,60,0.32)"/><rect x="374" y="315" width="1" height="2" fill="rgba(60,60,60,0.32)"/><rect x="385" y="315" width="1" height="2" fill="rgba(60,60,60,0.32)"/><rect x="396" y="315" width="1" height="2" fill="rgba(60,60,60,0.32)"/><rect x="407" y="315" width="1" height="2" fill="rgba(60,60,60,0.32)"/><rect x="418" y="315" width="1" height="2" fill="rgba(60,60,60,0.32)"/><rect x="429" y="315" width="1" height="2" fill="rgba(60,60,60,0.32)"/><rect x="440" y="315" width="1" height="2" fill="rgba(60,60,60,0.32)"/><rect x="451" y="315" width="1" height="2" fill="rgba(60,60,60,0.32)"/><rect x="462" y="315" width="1" height="2" fill="rgba(60,60,60,0.32)"/><rect x="473" y="315" width="1" height="2" fill="rgba(60,60,60,0.32)"/><rect x="484" y="315" width="1" height="2" fill="rgba(60,60,60,0.32)"/><rect x="495" y="315" width="1" height="2" fill="rgba(60,60,60,0.32)"/><rect x="506" y="315" width="1" height="2" fill="rgba(60,60,60,0.32)"/><rect x="517" y="315" width="1" height="2" fill="rgba(60,60,60,0.32)"/><rect x="528" y="315" width="1" height="2" fill="rgba(60,60,60,0.32)"/><rect x="539" y="315" width="1" height="2" fill="rgba(60,60,60,0.32)"/><rect x="550" y="315" width="1" height="2" fill="rgba(60,60,60,0.32)"/><rect x="561" y="315" width="1" height="2" fill="rgba(60,60,60,0.32)"/><rect x="572" y="315" width="1" height="2" fill="rgba(60,60,60,0.32)"/><rect x="583" y="315" width="1" height="2" fill="rgba(60,60,60,0.32)"/><rect x="594" y="315" width="1" height="2" fill="rgba(60,60,60,0.32)"/><rect x="605" y="315" width="1" height="2" fill="rgba(60,60,60,0.32)"/><rect x="616" y="315" width="1" height="2" fill="rgba(60,60,60,0.32)"/><rect x="627" y="315" width="1" height="2" fill="rgba(60,60,60,0.32)"/><rect x="638" y="315" width="1" height="2" fill="rgba(60,60,60,0.32)"/><rect x="649" y="315" width="1" height="2" fill="rgba(60,60,60,0.32)"/><rect x="660" y="315" width="1" height="2" fill="rgba(60,60,60,0.32)"/><rect x="671" y="315" width="1" height="2" fill="rgba(60,60,60,0.32)"/><rect x="682" y="315" width="1" height="2" fill="rgba(60,60,60,0.32)"/><rect x="693" y="315" width="1" height="2" fill="rgba(60,60,60,0.32)"/></g>
<path d="M0.00,170.40 L4.90,169.40 L9.79,160.90 L14.69,157.10 L19.58,151.60 L24.48,163.00 L29.37,165.70 L34.27,156.00 L39.16,156.00 L44.06,153.20 L48.95,167.90 L53.85,169.50 L58.74,179.60 L63.64,189.00 L68.53,193.40 L73.43,185.60 L78.32,178.60 L83.22,181.90 L88.11,180.90 L93.01,170.20 L97.90,187.70 L102.80,176.00 L107.69,180.30 L112.59,198.20 L117.48,206.00 L122.38,206.00 L127.27,189.40 L132.17,193.40 L137.06,202.40 L141.96,206.30 L146.85,202.70 L151.75,213.30 L156.64,225.50 L161.54,209.20 L166.43,195.40 L171.33,181.20 L176.22,193.00 L181.12,168.50 L186.01,152.90 L190.91,142.80 L195.80,149.00 L200.70,124.10 L205.59,99.70 L210.49,107.10 L215.38,99.20 L220.28,109.50 L225.17,132.90 L230.07,156.80 L234.97,158.70 L239.86,163.00 L244.76,172.70 L249.65,179.60 L254.55,195.90 L259.44,186.10 L264.34,183.80 L269.23,191.30 L274.13,193.90 L279.02,204.80 L283.92,208.10 L288.81,197.20 L293.71,204.00 L298.60,211.60 L303.50,212.90 L308.39,210.90 L313.29,218.10 L318.18,225.40 L323.08,227.80 L327.97,227.20 L332.87,229.10 L337.76,228.20 L342.66,232.40 L347.55,223.00 L352.45,234.00 L357.34,223.70 L362.24,230.10 L367.13,229.80 L372.03,234.40 L376.92,229.50 L381.82,224.90 L386.71,231.00 L391.61,231.00 L396.50,232.30 L401.40,233.10 L406.29,231.40 L411.19,229.80 L416.08,247.40 L420.98,248.40 L425.87,243.20 L430.77,246.30 L435.66,258.50 L440.56,258.50 L445.45,263.40 L450.35,260.40 L455.24,260.40 L460.14,263.40 L465.03,269.70 L469.93,257.40 L474.83,266.30 L479.72,268.00 L484.62,270.90 L489.51,274.50 L494.41,275.60 L499.30,277.20 L504.20,270.90 L509.09,269.90 L513.99,268.80 L518.88,263.90 L523.78,272.00 L528.67,282.60 L533.57,287.50 L538.46,289.70 L543.36,296.20 L548.25,291.00 L553.15,292.30 L558.04,293.30 L562.94,300.40 L567.83,296.20 L572.73,288.10 L577.62,289.40 L582.52,289.00 L587.41,289.40 L592.31,288.10 L597.20,290.70 L602.10,285.30 L606.99,281.10 L611.89,285.70 L616.78,273.80 L621.68,269.70 L626.57,267.70 L631.47,266.00 L636.36,266.10 L641.26,272.60 L646.15,273.20 L651.05,270.90 L655.94,269.00 L660.84,271.10 L665.73,264.70 L670.63,270.90 L675.52,274.20 L680.42,285.30 L685.31,280.10 L690.21,287.60 L695.10,287.80 L700.00,287.80 L701.00,287.40" fill="none" stroke="#a01e12" stroke-width="2" stroke-linejoin="miter"/>
<g fill="rgba(40,45,60,0.8)">
<rect x="48" y="320" width="2" height="1"/><rect x="224.2" y="320" width="2" height="1"/><rect x="400.5" y="320" width="2" height="1"/><rect x="576.5" y="320" width="2" height="1"/>
</g>
<g font-weight="bold" font-size="10.5" fill="#152033" stroke="#152033" stroke-width="0.3" text-anchor="middle">
<text x="49.5" y="340.8">18:00</text>
<text x="225.6" y="340.8">00:00</text>
<text x="401.7" y="340.8">06:00</text>
<text x="578.3" y="340.8">12:00</text>
</g>
<g font-weight="bold" font-size="10" fill="#152033" stroke="#152033" stroke-width="0.15" text-anchor="end">
<text x="679.6" y="146.7" textLength="20.5" lengthAdjust="spacingAndGlyphs">3.70</text>
<text x="679.6" y="217.5" textLength="20.5" lengthAdjust="spacingAndGlyphs">3.60</text>
<text x="679.4" y="288.1" textLength="20.2" lengthAdjust="spacingAndGlyphs">3.50</text>
</g>
<text x="679.4" y="319.7" text-anchor="end" font-weight="bold" font-size="10.4" fill="#76645f" stroke="#76645f" stroke-width="0.25" textLength="37.3" lengthAdjust="spacingAndGlyphs">100,000</text>
<rect x="0" y="0" width="7.5" height="430" fill="#a01c10"/>
<!-- header -->
<text x="21.2" y="33.6" font-weight="bold" font-size="18.3" fill="#0f1a2b" stroke="#0f1a2b" stroke-width="0.5" textLength="77.1" lengthAdjust="spacingAndGlyphs">ICP-USD</text>
<text x="20" y="46.7" font-size="10.2" fill="#3a3f47" textLength="65.7" lengthAdjust="spacingAndGlyphs">24 Hour Chart</text>
<text x="21.3" y="87.2" font-weight="bold" font-size="38" fill="#0f1a2b" stroke="#0f1a2b" stroke-width="0.6" textLength="122.3" lengthAdjust="spacingAndGlyphs">3.4950</text>
<text x="156.2" y="88" font-weight="bold" font-size="11" fill="#1a2333" stroke="#1a2333" stroke-width="0.3" textLength="34.2" lengthAdjust="spacingAndGlyphs">-3.52%</text>
<path d="M196,80 L208,80 L202,89.5 Z" fill="#a01c10"/>
<text x="558.6" y="14.5" font-weight="bold" font-size="10" fill="#111" stroke="#111" stroke-width="0.35" textLength="53.6" lengthAdjust="spacingAndGlyphs">Powered by</text>
<g fill="#111" stroke="#111">
<path d="M560.4,25 L572.7,25 M560.4,25 L560.4,37.3 L566.6,37.3" stroke-width="2" fill="none"/>
<circle cx="560.4" cy="25" r="2.3" stroke="none"/><circle cx="566.6" cy="25" r="2.3" stroke="none"/><circle cx="572.7" cy="25" r="2.3" stroke="none"/>
<circle cx="560.4" cy="31.3" r="2.3" stroke="none"/><circle cx="566.6" cy="31.3" r="1" stroke="none"/><circle cx="572.7" cy="31.3" r="1" stroke="none"/>
<circle cx="560.4" cy="37.3" r="2.3" stroke="none"/><circle cx="566.6" cy="37.3" r="2.3" stroke="none"/><circle cx="572.7" cy="37.3" r="1" stroke="none"/>
</g>
<g fill="#000" stroke="#000" stroke-width="0.55"><text x="577.8" y="36" font-weight="bold" font-size="14.6" textLength="67.6" lengthAdjust="spacingAndGlyphs">CoinDesk</text><text x="647.6" y="36" font-weight="bold" font-size="14.6" textLength="31.8" lengthAdjust="spacingAndGlyphs">Data</text></g>
<text x="559.6" y="54.4" font-size="10.2" fill="#8a8a8a" textLength="120" lengthAdjust="spacingAndGlyphs">10 Dec 2025 16:10 (GMT)</text>
<g font-weight="bold" font-size="11" fill="#152033" stroke="#152033" stroke-width="0.25" text-anchor="middle">
<text x="447.7" y="71.4" textLength="37.4" lengthAdjust="spacingAndGlyphs">3.6225</text><text x="500.7" y="71.4" textLength="36.6" lengthAdjust="spacingAndGlyphs">3.7605</text><text x="554.1" y="71.4" textLength="37" lengthAdjust="spacingAndGlyphs">3.4782</text><text x="607.5" y="71.4" textLength="30" lengthAdjust="spacingAndGlyphs">2.6 M</text><text x="660" y="71.4" textLength="37.7" lengthAdjust="spacingAndGlyphs">9.38 M</text>
</g>
<g font-size="11" fill="#4a4f57" text-anchor="middle">
<text x="448.3" y="87" textLength="25.4" lengthAdjust="spacingAndGlyphs">Open</text><text x="501.8" y="87" textLength="20.4" lengthAdjust="spacingAndGlyphs">High</text><text x="554.5" y="87" textLength="18.2" lengthAdjust="spacingAndGlyphs">Low</text><text x="607" y="87" textLength="14" lengthAdjust="spacingAndGlyphs">Vol</text><text x="660.3" y="87" textLength="37" lengthAdjust="spacingAndGlyphs">Vol USD</text>
</g>
</svg>
</body></html>
